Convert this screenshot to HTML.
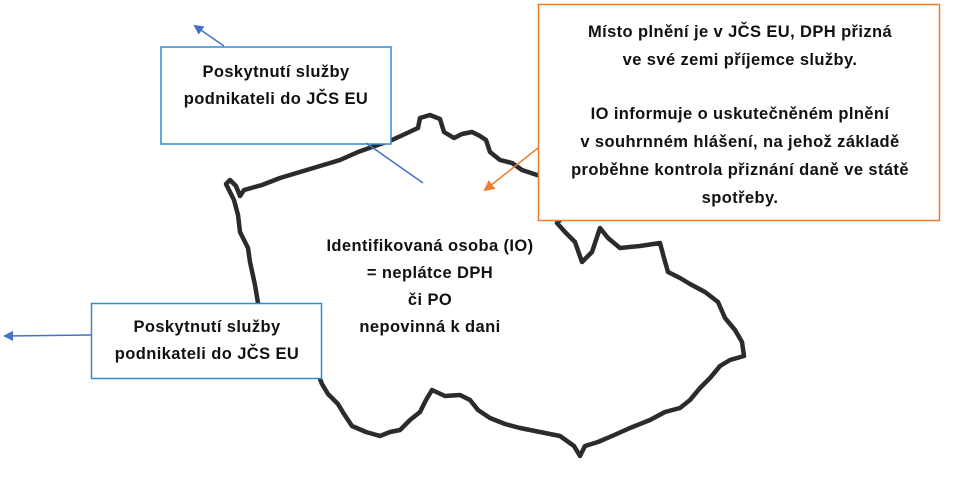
<!DOCTYPE html>
<html><head><meta charset="utf-8"><style>html,body{margin:0;padding:0;background:#fff}svg{display:block}</style></head>
<body>
<svg width="967" height="483" viewBox="0 0 967 483" xmlns="http://www.w3.org/2000/svg">
<defs>
<marker id="ab" markerWidth="10" markerHeight="10" refX="8" refY="5" orient="auto" markerUnits="userSpaceOnUse"><path d="M0,0 L10,5 L0,10 Z" fill="#4472c4"/></marker>
<marker id="ao" markerWidth="11" markerHeight="11" refX="9" refY="5.5" orient="auto" markerUnits="userSpaceOnUse"><path d="M0,0 L11,5.5 L0,11 Z" fill="#ed7d31"/></marker>
</defs>
<path d="M226,184 L230,180 L236,186 L240,196 L244,190 L262,185 L280,178 L300,172 L320,166 L340,160 L358,152 L372,147 L392,140 L405,134 L418,128 L420,118 L430,115 L440,119 L444,132 L454,138 L462,134 L472,132 L480,136 L486,140 L490,152 L500,160 L512,163 L522,170 L540,176 L560,190 L570,210 L557,223 L565,232 L575,242 L582,262 L592,252 L600,228 L608,238 L620,248 L640,246 L660,243 L664,258 L668,272 L680,278 L690,284 L705,292 L718,302 L725,318 L735,330 L742,342 L744,356 L730,360 L720,366 L710,378 L700,388 L690,400 L680,408 L665,412 L650,420 L630,428 L612,436 L598,442 L585,446 L580,456 L574,446 L560,436 L540,432 L520,428 L505,424 L490,418 L478,410 L470,400 L460,395 L445,396 L432,390 L426,400 L420,412 L410,420 L400,430 L390,432 L380,436 L366,432 L352,426 L344,414 L338,404 L328,394 L322,384 L318,374 L300,372 M258,303 L255,285 L250,262 L248,248 L240,232 L238,215 L234,200 L226,184" fill="none" stroke="#2b2b2b" stroke-width="4.5" stroke-linejoin="round" stroke-linecap="round"/>
<rect x="161" y="47" width="230" height="97" fill="#fff" stroke="#2e8bd6" stroke-width="1.5"/>
<rect x="91.5" y="303.5" width="230" height="75" fill="#fff" stroke="#2e8bd6" stroke-width="1.5"/>
<rect x="538.5" y="4.5" width="401" height="216" fill="#fff" stroke="#ed7d31" stroke-width="1.5"/>
<line x1="224" y1="46" x2="195" y2="26" stroke="#4472c4" stroke-width="1.5" marker-end="url(#ab)"/>
<line x1="366" y1="143" x2="423" y2="183" stroke="#4472c4" stroke-width="1.5"/>
<line x1="91" y1="335" x2="5" y2="336" stroke="#4472c4" stroke-width="1.5" marker-end="url(#ab)"/>
<line x1="538" y1="148" x2="485" y2="190" stroke="#ed7d31" stroke-width="1.5" marker-end="url(#ao)"/>
<g font-family="Liberation Sans, sans-serif" font-weight="bold" font-size="16.5" letter-spacing="0.4" fill="#111" text-anchor="middle">
<text x="276" y="77">Poskytnutí služby</text>
<text x="276" y="104">podnikateli do JČS EU</text>
<text x="207" y="332">Poskytnutí služby</text>
<text x="207" y="359">podnikateli do JČS EU</text>
<text x="740" y="37">Místo plnění je v JČS EU, DPH přizná</text>
<text x="740" y="65">ve své zemi příjemce služby.</text>
<text x="740" y="119">IO informuje o uskutečněném plnění</text>
<text x="740" y="147">v souhrnném hlášení, na jehož základě</text>
<text x="740" y="175">proběhne kontrola přiznání daně ve státě</text>
<text x="740" y="203">spotřeby.</text>
<text x="430" y="251">Identifikovaná osoba (IO)</text>
<text x="430" y="278">= neplátce DPH</text>
<text x="430" y="305">či PO</text>
<text x="430" y="332">nepovinná k dani</text>
</g>
</svg>
</body></html>
